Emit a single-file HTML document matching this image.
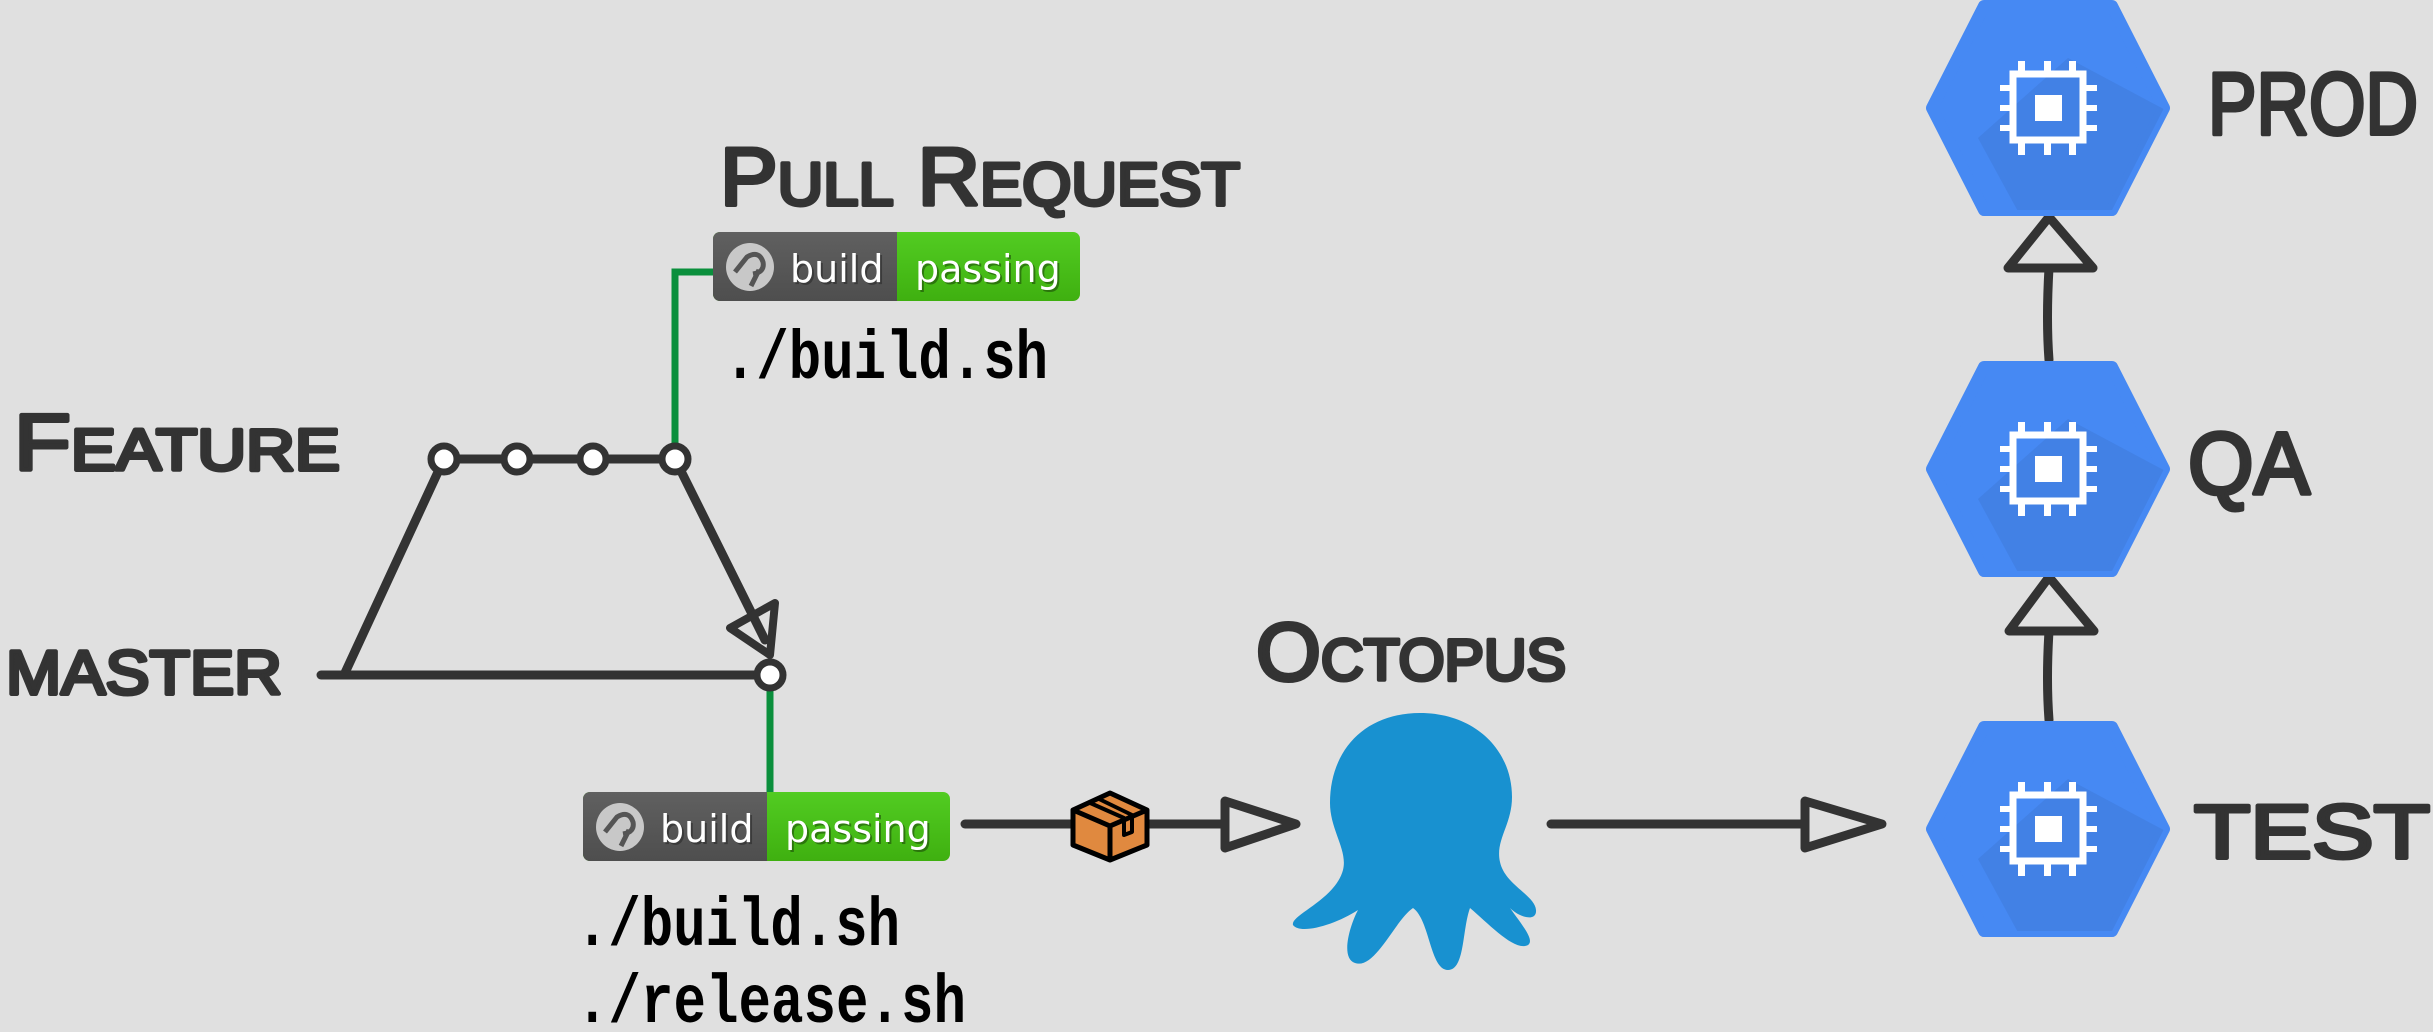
<!DOCTYPE html>
<html><head><meta charset="utf-8"><style>
html,body{margin:0;padding:0;background:#e0e0e0;}
svg{display:block}
.hand{font-family:"Liberation Sans",sans-serif;font-weight:normal;fill:#333;stroke:#333;stroke-width:4;stroke-linejoin:round}
.mono{font-family:"Liberation Mono",monospace;font-weight:bold;fill:#000}
.bt{font-family:"DejaVu Sans","Liberation Sans",sans-serif;font-size:38px;fill:#fff}
</style></head><body>
<svg width="2433" height="1032" viewBox="0 0 2433 1032" xmlns="http://www.w3.org/2000/svg">
<defs>
<linearGradient id="gl" x1="0" y1="0" x2="0" y2="1"><stop offset="0" stop-color="#606060"/><stop offset="1" stop-color="#4e4e4e"/></linearGradient>
<linearGradient id="gg" x1="0" y1="0" x2="0" y2="1"><stop offset="0" stop-color="#52cc22"/><stop offset="1" stop-color="#3fb010"/></linearGradient>
<clipPath id="hc"><polygon points="-116,0 -64,-102 64,-102 116,0 64,102 -64,102"/></clipPath>
<g id="badge">
<rect x="0" y="0" width="367" height="69" rx="7" fill="url(#gg)"/>
<path d="M7,0 H184 V69 H7 A7,7 0 0 1 0,62 V7 A7,7 0 0 1 7,0 Z" fill="url(#gl)"/>
<circle cx="37" cy="35" r="24" fill="#c8c8c8"/>
<path d="M22,40 L34,25 Q46,18 50,30 Q52,40 40,42 M46,38 L38,54" stroke="#555" stroke-width="5" fill="none"/>
<text x="79" y="52" class="bt" opacity="0.5" style="fill:#222">build</text>
<text x="77" y="50" class="bt">build</text>
<text x="204" y="52" class="bt" opacity="0.35" style="fill:#000">passing</text>
<text x="202" y="50" class="bt">passing</text>
</g>
<g id="hex">
<polygon points="-116,0 -64,-102 64,-102 116,0 64,102 -64,102" fill="#4689f3" stroke="#4689f3" stroke-width="12" stroke-linejoin="round"/>
<g clip-path="url(#hc)">
<path d="M20,-50 L140,14 L140,140 L-10,140 L-70,30 Z" fill="#3f7bdc" opacity="0.6"/>
</g>
<g fill="#fff">
<rect x="-35" y="-34" width="70" height="66" fill="none" stroke="#fff" stroke-width="7"/>
<rect x="-13" y="-13" width="27" height="26"/>
<rect x="-30" y="-47" width="7" height="14"/><rect x="-4" y="-47" width="7" height="14"/><rect x="21" y="-47" width="7" height="14"/>
<rect x="-30" y="33" width="7" height="14"/><rect x="-4" y="33" width="7" height="14"/><rect x="21" y="33" width="7" height="14"/>
<rect x="-48" y="-23" width="14" height="6"/><rect x="-48" y="-3" width="14" height="6"/><rect x="-48" y="17" width="14" height="6"/>
<rect x="35" y="-23" width="14" height="6"/><rect x="35" y="-3" width="14" height="6"/><rect x="35" y="17" width="14" height="6"/>
</g>
</g>
</defs>

<path d="M675,459 V272 H713" stroke="#0a8f3c" stroke-width="7" fill="none"/>
<path d="M770,675 V795" stroke="#0a8f3c" stroke-width="7" fill="none"/>

<g stroke="#333" stroke-width="9" fill="none" stroke-linecap="round" stroke-linejoin="round">
<path d="M444,459 H675"/>
<path d="M444,459 L344,675"/>
<path d="M321,675 H770"/>
<path d="M675,459 L765,640"/>
<path d="M770,655 L730,628 L775,603 Z" stroke-width="8"/>
<path d="M965,824 H1225"/>
<path d="M1225,801 L1296,824 L1225,848 Z"/>
<path d="M1551,824 H1805"/>
<path d="M1805,801 L1882,824 L1805,848 Z"/>
<path d="M2049,360 Q2046,320 2049,268"/>
<path d="M2049,217 L2093,268 L2008,268 Z"/>
<path d="M2049,720 Q2046,680 2049,631"/>
<path d="M2049,577 L2094,631 L2009,631 Z"/>
</g>
<g fill="#fff" stroke="#333" stroke-width="7">
<circle cx="444" cy="459" r="13"/>
<circle cx="517" cy="459" r="13"/>
<circle cx="593" cy="459" r="13"/>
<circle cx="675" cy="459" r="13"/>
<circle cx="770" cy="675" r="13"/>
</g>

<use href="#badge" x="713" y="232"/>
<use href="#badge" x="583" y="792"/>

<g stroke="#000" stroke-width="5" stroke-linejoin="round">
<path d="M1110,793 L1147,810 L1147,845 L1110,860 L1073,845 L1073,810 Z" fill="#e0893f"/>
<path d="M1073,810 L1110,826 L1147,810 M1110,826 V860" fill="none"/>
<path d="M1088,802 L1124,818 L1124,835 L1132,832 L1132,815 L1097,798" fill="none" stroke-width="4"/>
</g>

<path d="M1420,713 C1475,713 1512,750 1512,797 C1512,825 1495,840 1500,862 C1505,885 1535,895 1536,910 C1537,922 1520,918 1510,908 C1522,925 1535,940 1528,945 C1515,952 1490,925 1470,908 C1462,930 1465,970 1448,970 C1430,970 1430,920 1413,908 C1395,920 1375,970 1355,963 C1340,958 1350,925 1358,910 C1335,925 1300,935 1293,925 C1290,915 1335,900 1343,870 C1348,850 1330,830 1330,803 C1330,750 1365,713 1420,713 Z" fill="#1891d0"/>

<use href="#hex" x="2048" y="108"/>
<use href="#hex" x="2048" y="469"/>
<use href="#hex" x="2048" y="829"/>

<g class="mono">
<text transform="translate(724,378) scale(1,1.28)" font-size="54" textLength="324" lengthAdjust="spacingAndGlyphs">./build.sh</text>
<text transform="translate(576,945) scale(1,1.28)" font-size="54" textLength="324" lengthAdjust="spacingAndGlyphs">./build.sh</text>
<text transform="translate(576,1022) scale(1,1.28)" font-size="54" textLength="390" lengthAdjust="spacingAndGlyphs">./release.sh</text>
</g>

<g class="hand">
<text x="720" y="205" font-size="82" textLength="520" lengthAdjust="spacingAndGlyphs">P<tspan font-size="60">ULL</tspan> R<tspan font-size="60">EQUEST</tspan></text>
<text x="14" y="470" font-size="80" textLength="326" lengthAdjust="spacingAndGlyphs">F<tspan font-size="58">EATURE</tspan></text>
<text x="6" y="694" font-size="62" textLength="276" lengthAdjust="spacingAndGlyphs">MASTER</text>
<text x="1256" y="680" font-size="82" textLength="310" lengthAdjust="spacingAndGlyphs">O<tspan font-size="58">CTOPUS</tspan></text>
<text x="2208" y="134" font-size="88" textLength="210" lengthAdjust="spacingAndGlyphs">PROD</text>
<text x="2188" y="494" font-size="88" textLength="122" lengthAdjust="spacingAndGlyphs">QA</text>
<text x="2194" y="858" font-size="76" textLength="236" lengthAdjust="spacingAndGlyphs">TEST</text>
</g>
</svg>
</body></html>
